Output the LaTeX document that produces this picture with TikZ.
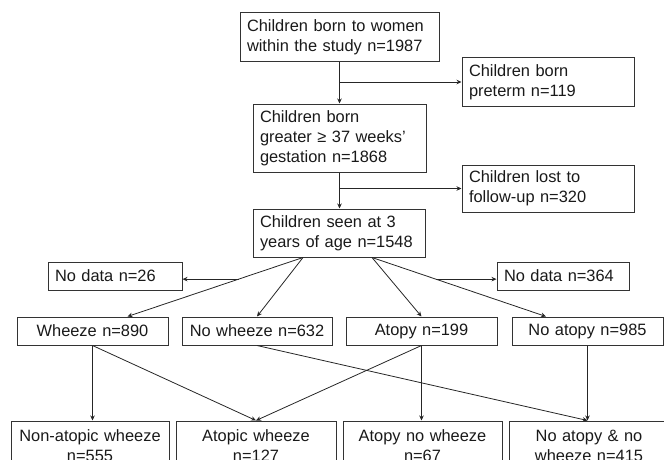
\documentclass[tikz,border=0pt]{standalone}
\usepackage{fontspec}
\setmainfont{Liberation Sans}
\usetikzlibrary{arrows.meta}
\tikzset{
  box/.style={draw=black!80, line width=1pt, inner xsep=7pt, inner ysep=0pt,
    font=\fontsize{16.4}{20}\selectfont, text=black!90},
  lbox/.style={box, align=left},
  cbox/.style={box, align=center},
  link/.style={draw=black!85, line width=0.8pt},
}
\begin{document}
\begin{tikzpicture}[>={Stealth[length=5pt,width=4.5pt]}]
    \def\x{1pt}
    \def\y{-1pt}
    \path[use as bounding box, clip] (0*\x, 0*\y) rectangle (664*\x, 460*\y);
    % main column
    \node[lbox, text width=185pt, minimum height=49pt] (A0) at (339.5*\x, 37.5*\y)
      {Children born to women\\within the study n=1987};
    \node[lbox, text width=159pt, minimum height=68pt] (A1) at (339.5*\x, 138*\y)
      {Children born\\greater \char"2265{} 37 weeks’\\gestation n=1868};
    \node[lbox, text width=158pt, minimum height=48pt] (A2) at (339*\x, 233*\y)
      {Children seen at 3\\years of age n=1548};
    % exclusions
    \node[lbox, text width=158pt, minimum height=48pt] (B0) at (548*\x, 82*\y)
      {Children born\\preterm n=119};
    \node[lbox, text width=158pt, minimum height=47pt] (B1) at (548*\x, 188.5*\y)
      {Children lost to\\follow-up n=320};
    \node[lbox, text width=120pt, minimum height=28pt] (C0) at (115*\x, 276*\y)
      {No data n=26};
    \node[lbox, text width=118pt, minimum height=28pt] (C1) at (563*\x, 276*\y)
      {No data n=364};
    % groups
    \node[cbox, text width=137pt, minimum height=28pt] (D0) at (92.5*\x, 331*\y) {Wheeze n=890};
    \node[cbox, text width=136pt, minimum height=28pt] (D1) at (257*\x, 331*\y) {No wheeze n=632};
    \node[cbox, text width=137pt, minimum height=28pt] (D2) at (421.5*\x, 331*\y) {Atopy n=199};
    \node[cbox, text width=137pt, minimum height=28pt] (D3) at (587.5*\x, 331*\y) {No atopy n=985};
    % phenotypes
    \node[cbox, text width=144pt, minimum height=50pt] (E0) at (90*\x, 446*\y)
      {Non-atopic wheeze\\n=555};
    \node[cbox, text width=146pt, minimum height=50pt] (E1) at (256*\x, 446*\y)
      {Atopic wheeze\\n=127};
    \node[cbox, text width=145pt, minimum height=50pt] (E2) at (422.5*\x, 446*\y)
      {Atopy no wheeze\\n=67};
    \node[cbox, text width=146pt, minimum height=50pt] (E3) at (589*\x, 446*\y)
      {No atopy \& no\\wheeze n=415};
    % connectors
    \path[link] (A0.south) edge [->] (A1.north);
    \coordinate (J0) at (A0.south |- B0.west);
    \draw[link, ->] (J0) -- (B0.west);
    \path[link] (A1.south) edge [->] (A1.south |- A2.north);
    \coordinate (J1) at (A1.south |- B1.west);
    \draw[link, ->] (J1) -- (B1.west);
    \draw[link, ->] ([xshift=-36pt]A2.south) -- coordinate[pos=0.367] (K0) ([xshift=35pt]D0.north);
    \draw[link, ->] ([xshift=-36pt]A2.south) -- (D1.north);
    \draw[link, ->] ([xshift=33pt]A2.south) -- (D2.north);
    \draw[link, ->] ([xshift=33pt]A2.south) -- coordinate[pos=0.367] (K1) ([xshift=-41.5pt]D3.north);
    \draw[link, ->] (K0) -- (K0 -| C0.east);
    \draw[link, ->] (K1) -- (K1 -| C1.west);
    \path[link] (D0.south) edge [->] (D0.south |- E0.north);
    \path[link] (D0.south) edge [->] (E1.north);
    \path[link] (D1.south) edge [->] (D3.south |- E3.north);
    \path[link] (D2.south) edge [->] (D2.south |- E2.north);
    \path[link] (D2.south) edge [->] (E1.north);
    \path[link] (D3.south) edge [->] (D3.south |- E3.north);
  \end{tikzpicture}
\end{document}
